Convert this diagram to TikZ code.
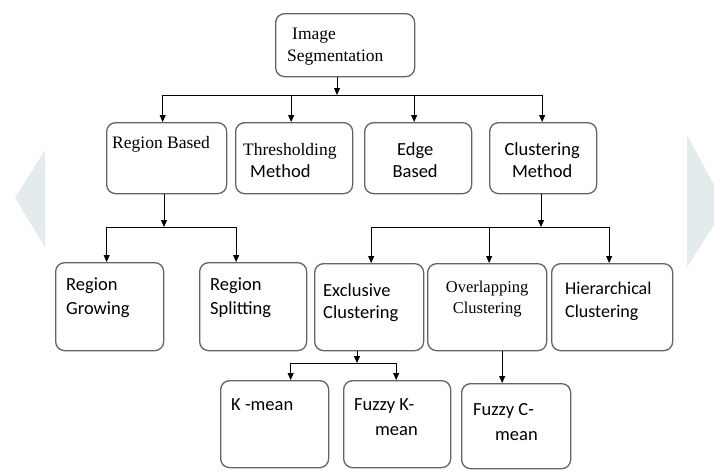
\documentclass[tikz,border=0pt]{standalone}
\usepackage{fontspec}
\setmainfont{Liberation Serif}
\newfontfamily\calibri{Carlito}
\usepackage{xcolor}
\usetikzlibrary{arrows.meta}
\definecolor{boxline}{RGB}{100,100,100}
\definecolor{wmark}{RGB}{228,235,237}
\tikzset{
    seg-box/.style = {draw=boxline, fill=white, line width=1.3pt, rounded corners=9pt, rectangle, anchor=north west, inner sep=0pt},
    serif-text/.style = {font=\fontsize{17.5}{22}\selectfont, inner sep=0pt, align=left, anchor=base west},
    sans-text/.style = {font=\calibri\fontsize{18.5}{24}\selectfont, inner sep=0pt, align=left, anchor=base west},
    link/.style = {draw=black, line width=0.8pt, -{Triangle[length=7pt,width=6pt]}},
}

\begin{document}
\begin{tikzpicture}[x=1pt, y=-1pt]
\useasboundingbox (0,0) rectangle (714,472);
% faint watermark
\fill[wmark] (45,150) -- (15,198) -- (45,247) -- cycle;
\fill[wmark] (687,135) -- (714,185) -- (714,225) -- (687,267) -- cycle;

% root
\node[seg-box, minimum width=139pt, minimum height=63pt] (seg) at (275,13) {};
\node[serif-text] (seg-text) at ([shift={(12,48)}]seg.north west) {\hspace*{5pt}Image\\Segmentation};

% first level
\node[seg-box, minimum width=120pt, minimum height=71pt] (region) at (106,122) {};
\node[seg-box, minimum width=117pt, minimum height=71pt] (thresh) at (235,122) {};
\node[seg-box, minimum width=107pt, minimum height=71pt] (edge) at (364,122) {};
\node[seg-box, minimum width=107pt, minimum height=71pt] (clusm) at (489,122) {};
\node[serif-text] (region-text) at ([shift={(6,26)}]region.north west) {Region Based};
\node[serif-text] (thresh-text) at ([shift={(8,55)}]thresh.north west) {Thresholding\\\calibri\fontsize{18.5}{22}\selectfont\hspace*{7pt}Method};
\node[sans-text, align=center, anchor=base, font=\calibri\fontsize{18.5}{22}\selectfont] (edge-text) at ([shift={(-3,55)}]edge.north) {Edge\\Based};
\node[sans-text, align=center, anchor=base, font=\calibri\fontsize{18.5}{22}\selectfont] (clusm-text) at ([shift={(-1,55)}]clusm.north) {Clustering\\Method};

% second level
\node[seg-box, minimum width=108pt, minimum height=88pt] (grow) at (55,262) {};
\node[seg-box, minimum width=107pt, minimum height=88pt] (split) at (199,262) {};
\node[seg-box, minimum width=109pt, minimum height=87pt] (excl) at (314,263) {};
\node[seg-box, minimum width=119pt, minimum height=87pt] (overl) at (427,263) {};
\node[seg-box, minimum width=121pt, minimum height=87pt] (hier) at (551,263) {};
\node[sans-text] (grow-text) at ([shift={(11,52)}]grow.north west) {Region\\Growing};
\node[sans-text] (split-text) at ([shift={(11,52)}]split.north west) {Region\\Splitting};
\node[sans-text, font=\calibri\fontsize{18.5}{22}\selectfont] (excl-text) at ([shift={(9,55)}]excl.north west) {Exclusive\\Clustering};
\node[serif-text, align=center, anchor=base, font=\fontsize{16.5}{21}\selectfont] (overl-text) at ([shift={(0,50)}]overl.north) {Overlapping\\Clustering};
\node[sans-text, font=\calibri\fontsize{18}{23}\selectfont] (hier-text) at ([shift={(14,54)}]hier.north west) {Hierarchical\\Clustering};

% third level
\node[seg-box, minimum width=108pt, minimum height=87pt] (kmean) at (220,380) {};
\node[seg-box, minimum width=107pt, minimum height=87pt] (fkmean) at (343,380) {};
\node[seg-box, minimum width=109pt, minimum height=85pt] (fcmean) at (461,383) {};
\node[sans-text] (kmean-text) at ([shift={(11,30)}]kmean.north west) {K -mean};
\node[sans-text, font=\calibri\fontsize{18.5}{25}\selectfont] (fkmean-text) at ([shift={(11,55)}]fkmean.north west) {Fuzzy K-\\\hspace*{21pt}mean};
\node[sans-text, font=\calibri\fontsize{18.5}{25}\selectfont] (fcmean-text) at ([shift={(12,57)}]fcmean.north west) {Fuzzy C-\\\hspace*{22pt}mean};

% connectors
\coordinate (top-bus) at (337,95);
\draw[link] (seg.south -| top-bus) -- (top-bus);
\draw[link] (top-bus) -| ([xshift=-4pt]region.north);
\draw[link] (top-bus) -| ([xshift=-3pt]thresh.north);
\draw[link] (top-bus) -| ([xshift=-4pt]edge.north);
\draw[link] (top-bus) -| ([xshift=-1pt]clusm.north);

\coordinate (region-bus) at (164,227);
\draw[link] (region.south -| region-bus) -- (region-bus);
\draw[link] (region-bus) -| ([xshift=-3pt]grow.north);
\draw[link] (region-bus) -| ([xshift=-17pt]split.north);

\coordinate (clus-bus) at (541,227);
\draw[link] (clusm.south -| clus-bus) -- (clus-bus);
\draw[link] (clus-bus) -| ([xshift=2pt]excl.north);
\draw[link] (clus-bus) -| ([xshift=2pt]overl.north);
\draw[link] (clus-bus) -| ([xshift=-3pt]hier.north);

\coordinate (excl-bus) at (357,363);
\draw[link] (excl.south -| excl-bus) -- (excl-bus);
\draw[link] (excl-bus) -| ([xshift=16pt]kmean.north);
\draw[link] (excl-bus) -| ([xshift=-1pt]fkmean.north);

\draw[link] ([xshift=15pt]overl.south) -- ([xshift=15pt]overl.south |- fcmean.north);
\end{tikzpicture}
\end{document}
